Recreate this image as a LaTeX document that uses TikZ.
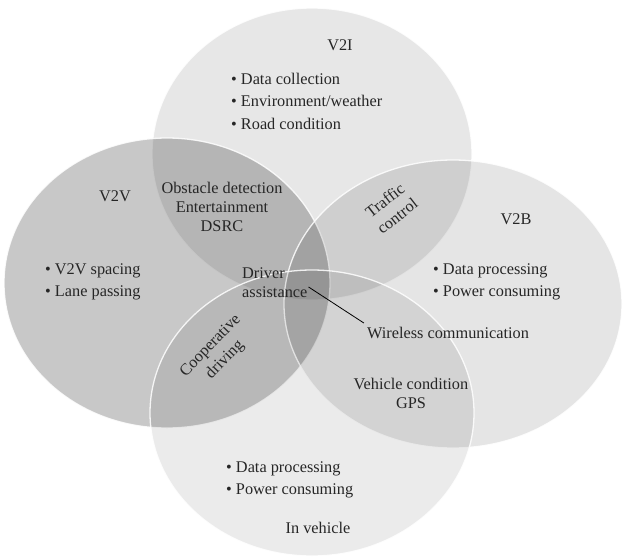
\documentclass[tikz,border=0pt]{standalone}
\usepackage{fontspec}
\setmainfont{Liberation Serif}
\usetikzlibrary{calc}
\begin{document}
\begin{tikzpicture}[x=1pt,y=-1pt,
  setcirc/.style={fill=black, draw=white, line width=1.3pt, draw opacity=0.85},
  lbl/.style={inner sep=0pt, text=black!85, font=\fontsize{16.3}{19}\selectfont},
  blist/.style={lbl, align=left, font=\fontsize{16.3}{22.5}\selectfont},
  ctext/.style={lbl, align=center},
  link/.style={draw=black, line width=0.8pt}
]
\useasboundingbox (0,0) rectangle (624,557);
\fill[white] (0,0) rectangle (624,557);
% sets
\path[setcirc, fill opacity=0.095] (312,154) ellipse [x radius=160pt, y radius=146pt];
\path[setcirc, fill opacity=0.215] (167,283) ellipse [x radius=163pt, y radius=145pt];
\path[setcirc, fill opacity=0.10] (453,304) ellipse [x radius=169pt, y radius=144pt];
\path[setcirc, fill opacity=0.08] (312,413) ellipse [x radius=162pt, y radius=143pt];
% labels
\node[ctext] (v2i) at (340,45) {V2I};
\node[blist, anchor=west] (v2il) at (231,101) {\textbullet\ Data collection\\\textbullet\ Environment/weather\\\textbullet\ Road condition};
\node[ctext] (v2v) at (115,196) {V2V};
\node[ctext] (obs) at (222,207) {Obstacle detection\\Entertainment\\DSRC};
\node[blist, anchor=west] (v2vl) at (45,282) {\textbullet\ V2V spacing\\\textbullet\ Lane passing};
\node[lbl, align=left, anchor=west] (da) at (242,283) {Driver\\assistance};
\node[ctext, rotate=46, font=\fontsize{16.3}{20}\selectfont] (coop) at (218,353) {Cooperative\\driving};
\node[ctext, rotate=38, font=\fontsize{16.3}{20}\selectfont] (tc) at (391,208) {Traffic\\control};
\node[ctext] (v2b) at (516,219) {V2B};
\node[blist, anchor=west] (v2bl) at (433,282) {\textbullet\ Data processing\\\textbullet\ Power consuming};
\node[ctext] (wc) at (448,333) {Wireless communication};
\node[ctext] (vc) at (411,393) {Vehicle condition\\GPS};
\node[blist, anchor=west] (ivl) at (226,480) {\textbullet\ Data processing\\\textbullet\ Power consuming};
\node[ctext] (iv) at (318,528) {In vehicle};
\draw[link] ($(da.east)+(1,4)$) -- ($(wc.north west)+(-3,-4)$);
\end{tikzpicture}
\end{document}
